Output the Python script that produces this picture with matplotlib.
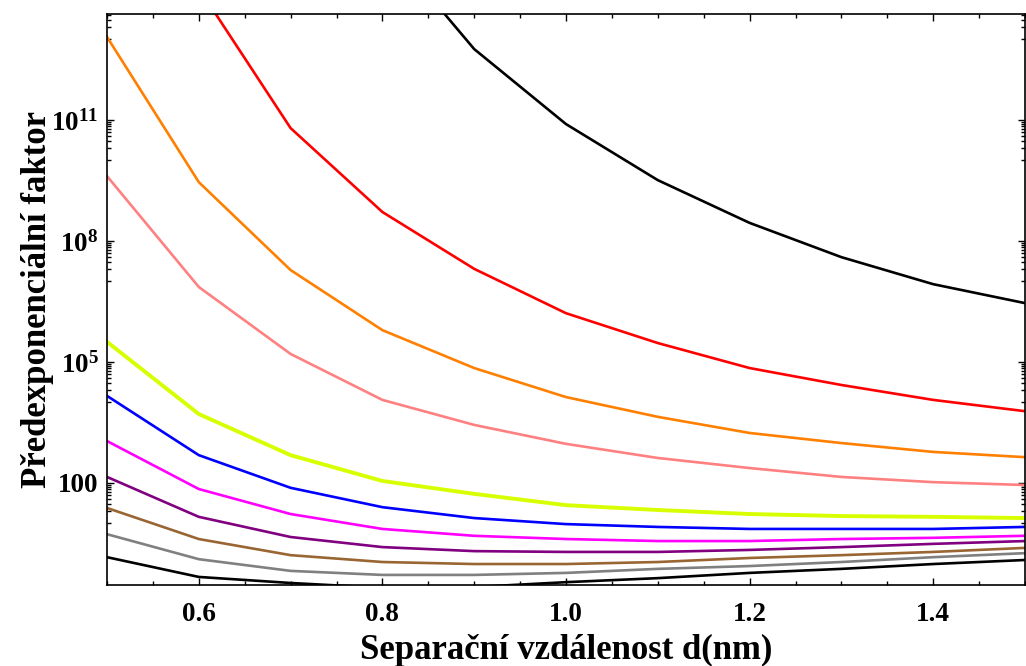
import matplotlib
matplotlib.use('Agg')
import matplotlib.pyplot as plt
import matplotlib.ticker as mticker
import numpy as np

plt.rcParams['font.family'] = ['Liberation Serif', 'DejaVu Serif']
plt.rcParams['font.weight'] = 'bold'
plt.rcParams['mathtext.fontset'] = 'custom'
plt.rcParams['mathtext.rm'] = 'Liberation Serif:bold'
plt.rcParams['mathtext.it'] = 'Liberation Serif:italic:bold'
plt.rcParams['mathtext.bf'] = 'Liberation Serif:bold'

# DATA  (separation d in nm, log10 of the pre-exponential factor)
d = [0.5, 0.6, 0.7, 0.8, 0.9, 1.0, 1.1, 1.2, 1.3, 1.4, 1.5]

log_black_top = [27.6, 22.65, 18.69, 15.46, 12.76, 10.90, 9.51, 8.45, 7.60, 6.93, 6.46]
log_red       = [18.19, 14.27, 10.80, 8.72, 7.31, 6.21, 5.47, 4.85, 4.43, 4.06, 3.78]
log_orange    = [13.06, 9.46, 7.28, 5.79, 4.85, 4.13, 3.64, 3.24, 2.99, 2.77, 2.64]
log_pink      = [9.61, 6.86, 5.20, 4.06, 3.44, 2.97, 2.62, 2.37, 2.15, 2.02, 1.95]
log_yellow    = [5.50, 3.71, 2.69, 2.05, 1.73, 1.45, 1.33, 1.23, 1.18, 1.16, 1.13]
log_blue      = [4.16, 2.69, 1.88, 1.40, 1.13, 0.98, 0.91, 0.86, 0.86, 0.86, 0.91]
log_magenta   = [3.04, 1.85, 1.23, 0.86, 0.69, 0.61, 0.56, 0.56, 0.61, 0.64, 0.69]
log_purple    = [2.15, 1.16, 0.66, 0.41, 0.31, 0.29, 0.29, 0.34, 0.41, 0.49, 0.56]
log_brown     = [1.38, 0.61, 0.21, 0.04, -0.01, -0.01, 0.04, 0.14, 0.21, 0.29, 0.39]
log_gray      = [0.73, 0.11, -0.18, -0.28, -0.28, -0.23, -0.13, -0.06, 0.04, 0.16, 0.26]
log_black_low = [0.16, -0.33, -0.48, -0.60, -0.58, -0.46, -0.36, -0.23, -0.13, -0.01, 0.09]

curves = [
    (log_black_top, '#000000', 1.9),
    (log_red, '#FF0000', 1.9),
    (log_orange, '#FF8000', 1.9),
    (log_pink, '#FF8080', 1.9),
    (log_yellow, '#D8FF00', 2.8),
    (log_blue, '#0000FF', 1.9),
    (log_magenta, '#FF00FF', 1.9),
    (log_purple, '#800080', 1.9),
    (log_brown, '#996633', 1.9),
    (log_gray, '#808080', 1.9),
    (log_black_low, '#000000', 1.9),
]

y_major = [1e2, 1e5, 1e8, 1e11]
y_major_labels = ['100', r'$10^{5}$', r'$10^{8}$', r'$10^{11}$']

# FIGURE
fig = plt.figure(figsize=(10.26, 6.66), dpi=100)
ax = fig.add_axes([107/1026, 1 - 585/666, 918/1026, 571/666])

for vals, col, lw in curves:
    ax.plot(d, np.power(10.0, vals), color=col, lw=lw, solid_joinstyle='miter')

ax.set_yscale('log')
ax.set_xlim(0.5, 1.5)
ax.set_ylim(10**-0.53, 10**13.63)

ax.set_xticks([0.6, 0.8, 1.0, 1.2, 1.4])
ax.set_xticklabels(['0.6', '0.8', '1.0', '1.2', '1.4'])
ax.xaxis.set_minor_locator(mticker.MultipleLocator(0.05))

minor_y = [j * 10.0**e for e in [1, 4, 7, 10, 13] for j in range(1, 10)]
ax.yaxis.set_major_locator(mticker.FixedLocator(y_major))
ax.yaxis.set_major_formatter(mticker.FixedFormatter(y_major_labels))
ax.yaxis.set_minor_locator(mticker.FixedLocator(minor_y))
ax.yaxis.set_minor_formatter(mticker.NullFormatter())

ax.tick_params(which='both', direction='in', top=True, right=True, width=1.0)
ax.tick_params(which='major', length=5, labelsize=19.5)
ax.tick_params(axis='x', which='major', pad=12)
ax.tick_params(axis='y', which='major', pad=6)
ax.tick_params(which='minor', length=3)
for s in ax.spines.values():
    s.set_linewidth(1.2)

ax.set_xlabel('Separační vzdálenost d(nm)', fontsize=25, fontweight='bold', labelpad=5)
ax.set_ylabel('Předexponenciální faktor', fontsize=25, fontweight='bold', labelpad=-2)

fig.savefig('out.png', dpi=100)
